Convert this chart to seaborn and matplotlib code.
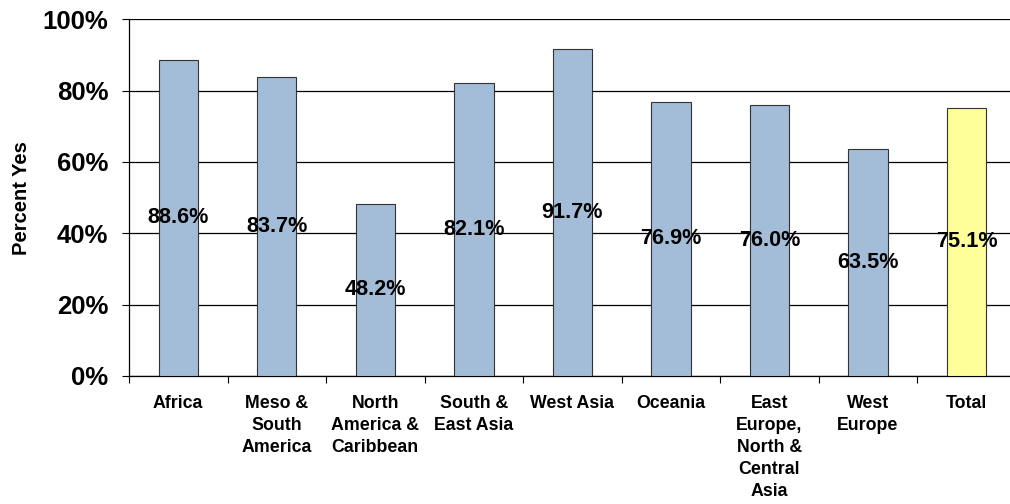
import matplotlib
matplotlib.use("Agg")
import matplotlib.pyplot as plt
import seaborn as sns
import pandas as pd
from matplotlib.ticker import FixedLocator

regions = ["Africa", "Meso &\nSouth\nAmerica", "North\nAmerica &\nCaribbean",
           "South &\nEast Asia", "West Asia", "Oceania",
           "East\nEurope,\nNorth &\nCentral\nAsia", "West\nEurope", "Total"]
percent_yes = [88.6, 83.7, 48.2, 82.1, 91.7, 76.9, 76.0, 63.5, 75.1]
bar_colors = ["#A3BDD9"] * 8 + ["#FFFF99"]
y_ticks = [0, 20, 40, 60, 80, 100]

sns.set_theme(style="white")
plt.rcParams["font.family"] = ["Liberation Sans", "DejaVu Sans"]
for key in ["text.color", "axes.labelcolor", "xtick.color", "ytick.color"]:
    plt.rcParams[key] = "black"

df = pd.DataFrame({"region": regions, "pct": percent_yes})

fig = plt.figure(figsize=(10.10, 5.04), dpi=100)
ax = fig.add_axes([0.1277, 0.254, 0.878, 0.708])

sns.barplot(data=df, x="region", y="pct", hue="region", palette=bar_colors,
            saturation=1, legend=False, width=0.4, edgecolor="#333333",
            linewidth=0.8, ax=ax, zorder=3)

ax.set_ylim(0, 100)
ax.set_xlim(-0.5, len(regions) - 0.5)
ax.set_yticks(y_ticks)
ax.set_yticklabels([f"{t}%" for t in y_ticks], fontsize=18.5, fontweight="bold")
ax.yaxis.grid(True, color="black", linewidth=0.9, zorder=0)
ax.xaxis.grid(False)

ax.set_xticks(range(len(regions)))
ax.set_xticklabels(regions, fontsize=12.8, fontweight="bold", linespacing=1.39)
ax.xaxis.set_minor_locator(FixedLocator([i - 0.5 for i in range(len(regions) + 1)]))
ax.tick_params(axis="x", which="major", length=0, pad=13.5)
ax.tick_params(axis="x", which="minor", length=5, width=0.8, color="black",
               direction="out", bottom=True)
ax.tick_params(axis="y", which="major", length=5, width=0.8, color="black",
               direction="out", left=True, pad=10)

ax.set_xlabel("")
ax.set_ylabel("Percent Yes", fontsize=14.5, fontweight="bold", labelpad=8)

for side in ["top", "right"]:
    ax.spines[side].set_visible(False)
for side in ["left", "bottom"]:
    ax.spines[side].set_visible(True)
    ax.spines[side].set_color("black")
    ax.spines[side].set_linewidth(0.9)

for i, v in enumerate(percent_yes):
    ax.text(i, v / 2, f"{v:.1f}%", ha="center", va="center",
            fontsize=15.6, fontweight="bold", color="black", zorder=4)

fig.savefig("out.png", dpi=100)
